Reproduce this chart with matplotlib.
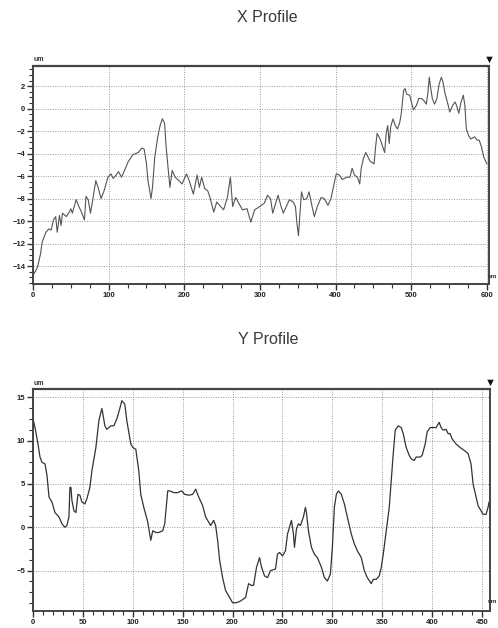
import matplotlib
matplotlib.use("Agg")
import matplotlib.pyplot as plt
from matplotlib.ticker import MultipleLocator

# X profile (position, um)
x_pos = [0, 2, 6, 10, 12, 17, 21, 24, 27, 30, 32, 35, 37, 39, 44, 48, 50, 52, 57, 60,
         64, 68, 70, 73, 76, 79, 83, 86, 90, 94, 99, 103, 106, 110, 113, 117, 121, 126,
         132, 139, 144, 147, 150, 152, 156, 158, 161, 165, 168, 171, 174, 176, 179, 181,
         184, 188, 193, 197, 203, 207, 212, 217, 220, 223, 227, 231, 234, 239, 243, 248,
         252, 257, 261, 264, 268, 272, 277, 283, 288, 293, 300, 306, 310, 314, 317, 321,
         324, 328, 331, 335, 339, 344, 347, 349, 351, 353, 355, 358, 362, 365, 369, 372,
         376, 381, 385, 390, 394, 398, 401, 405, 409, 415, 419, 422, 425, 429, 432, 434,
         437, 440, 443, 446, 451, 453, 455, 459, 462, 465, 467, 469, 471, 473, 476, 479,
         482, 485, 487, 490, 492, 494, 498, 501, 503, 507, 510, 514, 517, 520, 522, 524,
         526, 528, 531, 534, 537, 540, 542, 545, 549, 551, 555, 558, 560, 563, 566, 569,
         571, 573, 576, 579, 584, 587, 590, 593, 596, 598, 600]
x_val = [-14.8, -14.6, -14.1, -12.9, -11.9, -11.0, -10.7, -10.8, -9.9, -9.6, -11.0, -9.5,
         -10.4, -9.3, -9.6, -9.2, -8.9, -9.3, -8.1, -8.6, -9.2, -9.9, -7.8, -8.1, -9.3,
         -8.1, -6.4, -7.0, -8.0, -7.3, -6.1, -5.8, -6.2, -5.9, -5.6, -6.1, -5.5, -4.7,
         -4.1, -3.9, -3.5, -3.6, -4.9, -6.4, -8.0, -7.0, -4.3, -2.5, -1.5, -0.9, -1.3,
         -3.4, -5.5, -7.0, -5.5, -6.1, -6.4, -6.7, -5.8, -6.5, -7.6, -5.9, -7.0, -6.1,
         -7.1, -7.3, -7.9, -9.2, -8.3, -8.7, -9.0, -7.9, -6.1, -8.7, -7.9, -8.4, -9.0,
         -8.9, -10.1, -9.0, -8.7, -8.4, -7.7, -8.0, -9.3, -8.4, -7.7, -8.7, -9.3, -8.7,
         -8.1, -8.3, -8.7, -10.2, -11.3, -9.3, -7.4, -8.1, -8.0, -7.4, -8.7, -9.6, -8.7,
         -7.9, -8.0, -8.6, -8.0, -6.7, -5.8, -5.9, -6.3, -6.1, -6.1, -5.3, -5.9, -6.1,
         -6.7, -5.3, -4.4, -3.9, -4.3, -4.7, -4.9, -3.4, -2.2, -2.7, -3.3, -3.9, -2.2,
         -1.5, -3.1, -1.6, -0.9, -1.5, -1.8, -1.2, -0.4, 1.6, 1.8, 1.3, 1.2, 0.4, -0.1,
         0.3, 0.9, 0.9, 0.7, 0.4, 1.3, 2.8, 1.8, 0.9, 0.4, 0.9, 2.2, 2.8, 2.4, 1.3, 0.3,
         -0.3, 0.3, 0.6, 0.3, -0.4, 0.6, 1.2, 0.3, -1.8, -2.4, -2.7, -2.5, -2.8, -2.8,
         -3.4, -4.3, -4.6, -4.9]

# Y profile
y_pos = [0, 2, 5, 7, 9, 12, 14, 16, 19, 22, 26, 29, 32, 34, 36, 37, 38, 39, 41, 43, 45,
         47, 49, 52, 54, 57, 59, 63, 66, 69, 70, 72, 74, 78, 81, 84, 87, 89, 92, 94, 98,
         100, 103, 106, 108, 111, 115, 118, 120, 123, 126, 130, 132, 135, 137, 141, 145,
         149, 152, 156, 160, 163, 166, 170, 173, 176, 178, 181, 183, 185, 187, 190, 193,
         197, 200, 204, 208, 213, 216, 219, 221, 224, 227, 229, 232, 235, 238, 243, 245,
         247, 250, 253, 255, 257, 259, 261, 262, 264, 266, 268, 271, 273, 274, 276, 279,
         282, 285, 289, 292, 295, 298, 300, 302, 304, 306, 309, 312, 315, 319, 322, 325,
         329, 332, 335, 339, 341, 344, 347, 349, 351, 354, 357, 359, 361, 363, 366, 369,
         371, 374, 377, 379, 382, 384, 388, 390, 393, 395, 398, 401, 404, 407, 409, 411,
         414, 416, 418, 420, 424, 428, 433, 436, 439, 441, 444, 446, 449, 451, 454, 456, 457]
y_val = [12.5, 11.5, 9.6, 8.1, 7.5, 7.3, 6.0, 3.5, 2.9, 1.7, 1.2, 0.4, 0.0, 0.2, 1.2, 4.6,
         4.6, 3.1, 1.9, 1.7, 3.8, 3.7, 2.9, 2.7, 3.3, 4.6, 6.5, 9.2, 12.3, 13.7, 13.1, 11.7,
         11.3, 11.7, 11.7, 12.5, 13.7, 14.6, 14.2, 12.3, 9.6, 9.2, 9.0, 6.5, 3.8, 2.3, 0.6,
         -1.5, -0.4, -0.6, -0.6, -0.4, 0.4, 4.2, 4.2, 4.0, 4.0, 4.2, 3.8, 3.7, 3.8, 4.4,
         3.5, 2.5, 1.2, 0.6, 0.2, 0.8, 0.2, -1.5, -3.8, -5.8, -7.3, -8.1, -8.7, -8.7, -8.5,
         -8.1, -6.5, -6.7, -6.7, -4.6, -3.5, -4.6, -5.6, -5.8, -5.0, -4.8, -3.1, -2.9, -3.3,
         -2.7, -0.8, 0.0, 0.8, -0.8, -2.3, -0.2, 0.4, 0.2, 1.2, 2.3, 1.7, -0.4, -2.3, -3.1,
         -3.5, -4.6, -5.8, -6.2, -5.4, -2.3, 2.3, 3.8, 4.2, 3.8, 2.7, 1.2, -0.8, -1.9, -2.7,
         -3.5, -5.0, -5.8, -6.5, -6.0, -6.0, -5.6, -4.6, -3.1, -0.4, 2.3, 5.4, 8.5, 11.2,
         11.7, 11.5, 10.8, 9.2, 8.3, 7.9, 7.7, 8.1, 8.1, 8.3, 9.6, 11.0, 11.5, 11.5, 11.5,
         12.1, 11.5, 11.2, 11.3, 10.8, 10.8, 10.2, 9.6, 9.2, 8.8, 8.5, 7.3, 5.0, 3.5, 2.5,
         1.9, 1.5, 1.5, 2.3, 2.9]

plt.rcParams['font.family'] = ['Liberation Sans', 'DejaVu Sans']

fig = plt.figure(figsize=(4.98, 6.28), dpi=100)
ax = fig.add_axes([0.0663, 0.5478, 0.9157, 0.3471])
bx = fig.add_axes([0.0663, 0.0271, 0.9177, 0.3535])


def style(a, xmaj, xmin, ymaj, ymin):
    a.xaxis.set_major_locator(MultipleLocator(xmaj))
    a.xaxis.set_minor_locator(MultipleLocator(xmin))
    a.yaxis.set_major_locator(MultipleLocator(ymaj))
    a.yaxis.set_minor_locator(MultipleLocator(ymin))
    a.grid(True, which='major', color='#999999', linestyle=(0, (1, 1.5)), linewidth=0.7)
    a.tick_params(which='major', length=4, width=1.0, color='#333333',
                  labelsize=5.5, pad=1.5, labelcolor='#222222')
    a.tick_params(which='minor', length=3, width=0.8, color='#333333')
    for s in a.spines.values():
        s.set_color('#444444')
        s.set_linewidth(1.4)
    a.spines['top'].set_linewidth(1.6)


ax.plot(x_pos, x_val, color='#555555', linewidth=0.8)
ax.set_xlim(0, 603)
ax.set_ylim(-15.6, 3.8)
style(ax, 100, 25, 2, 0.5)

bx.plot(y_pos, y_val, color='#333333', linewidth=0.9)
bx.set_xlim(0, 458)
bx.set_ylim(-9.65, 15.95)
style(bx, 50, 10, 5, 1.25)

for a in (ax, bx):
    for lbl in a.get_xticklabels() + a.get_yticklabels():
        lbl.set_fontweight('bold')

fig.text(0.536, 0.972, 'X Profile', ha='center', va='center', fontsize=11.5, color='#3a3a3a')
fig.text(0.538, 0.459, 'Y Profile', ha='center', va='center', fontsize=11.5, color='#3a3a3a')

# unit labels and marker, like the original instrument window
fig.text(0.068, 0.903, 'um', fontsize=5, fontweight='bold', color='#333333')
fig.text(0.068, 0.387, 'um', fontsize=5, fontweight='bold', color='#333333')
fig.text(0.998, 0.558, 'um', ha='right', fontsize=4.5, fontweight='bold', color='#333333')
fig.text(0.998, 0.040, 'um', ha='right', fontsize=4.5, fontweight='bold', color='#333333')
fig.text(0.982, 0.904, '\u25BC', ha='center', va='center', fontsize=8, color='#111111')
fig.text(0.984, 0.391, '\u25BC', ha='center', va='center', fontsize=8, color='#111111')

fig.savefig('out.png', dpi=100, facecolor='white')
